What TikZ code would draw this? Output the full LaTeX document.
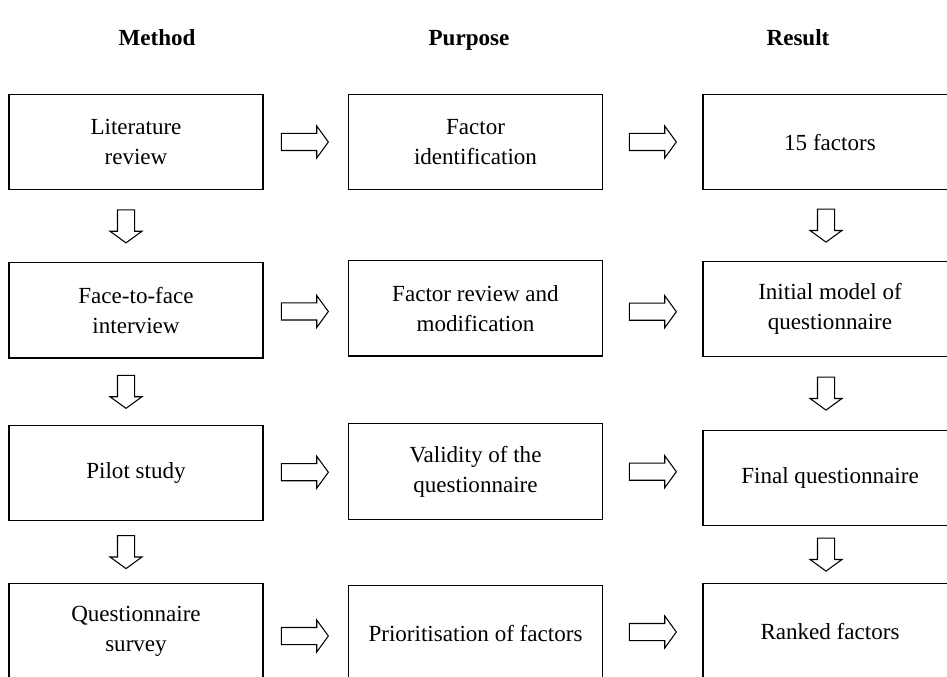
\documentclass[tikz,border=0pt]{standalone}
\usepackage{fontspec}
\setmainfont{Liberation Serif}
\usetikzlibrary{shapes.arrows,calc}

\tikzset{
  stagebox/.style={draw, line width=1pt, minimum width=190.5pt,
        minimum height=71.5pt, align=center, inner sep=2pt},
  blockarrow/.style={single arrow, draw, line width=0.8pt, inner sep=0pt,
        text height=12pt, text depth=0pt, text width=0pt,
        single arrow head extend=5.6pt, single arrow tip angle=108},
  rightarrow/.style={blockarrow, minimum height=35.25pt},
  downarrow/.style={blockarrow, minimum height=24.75pt, rotate=-90},
  header/.style={anchor=base, font=\fontsize{17.3}{22.5}\selectfont\bfseries}
}

\begin{document}
\begin{tikzpicture}[x=0.75pt, y=-0.75pt,
        every node/.style={font=\fontsize{17.3}{22.5}\selectfont}]
  \path[use as bounding box, fill=white] (0,0) rectangle (947,677);

  % column headers
  \node[header] (hmethod)  at (157,45.5) {Method};
  \node[header] (hpurpose) at (469,45.5) {Purpose};
  \node[header] (hresult)  at (798,45.5) {Result};

  % method column
  \node[stagebox] (lit) at (136,142)   {Literature\\review};
  \node[stagebox] (f2f) at (136,310.5) {Face-to-face\\interview};
  \node[stagebox] (pil) at (136,473)   {Pilot study};
  \node[stagebox] (que) at (136,631)   {Questionnaire\\survey};

  % purpose column
  \node[stagebox] (fid) at (475.5,142)   {Factor\\identification};
  \node[stagebox] (frm) at (475.5,308.5) {Factor review and\\modification};
  \node[stagebox] (val) at (475.5,471.5) {Validity of the\\questionnaire};
  \node[stagebox] (pri) at (475.5,633)   {Prioritisation of factors};

  % result column
  \node[stagebox] (f15) at (830,142) {15 factors};
  \node[stagebox] (ini) at (830,309) {Initial model of\\questionnaire};
  \node[stagebox] (fin) at (830,478) {Final questionnaire};
  \node[stagebox] (rnk) at (830,631) {Ranked factors};

  % arrows across
  \node[rightarrow] (a11) at ($(lit.east)!.5!(fid.west)+(-4,0)$) {};
  \node[rightarrow] (a12) at ($(fid.east)!.5!(f15.west)+(-3,0)$) {};
  \node[rightarrow] (a21) at ($(f2f.east)!.5!(frm.west)+(-4,2)$) {};
  \node[rightarrow] (a22) at ($(frm.east)!.5!(ini.west)+(-3,3)$) {};
  \node[rightarrow] (a31) at ($(pil.east)!.5!(val.west)+(-4,0)$) {};
  \node[rightarrow] (a32) at ($(val.east)!.5!(fin.west)+(-3,-3)$) {};
  \node[rightarrow] (a41) at ($(que.east)!.5!(pri.west)+(-4,4)$) {};
  \node[rightarrow] (a42) at ($(pri.east)!.5!(rnk.west)+(-3,0)$) {};

  % arrows down
  \node[downarrow] (d1) at ($(lit.south)!.5!(f2f.north)+(-10,-3)$) {};
  \node[downarrow] (d2) at ($(f2f.south)!.5!(pil.north)+(-10,-3)$) {};
  \node[downarrow] (d3) at ($(pil.south)!.5!(que.north)+(-10,-3)$) {};
  \node[downarrow] (d4) at ($(f15.south)!.5!(ini.north)+(-4,-3)$) {};
  \node[downarrow] (d5) at ($(ini.south)!.5!(fin.north)+(-4,-3)$) {};
  \node[downarrow] (d6) at ($(fin.south)!.5!(rnk.north)+(-4,-3)$) {};
\end{tikzpicture}
\end{document}
